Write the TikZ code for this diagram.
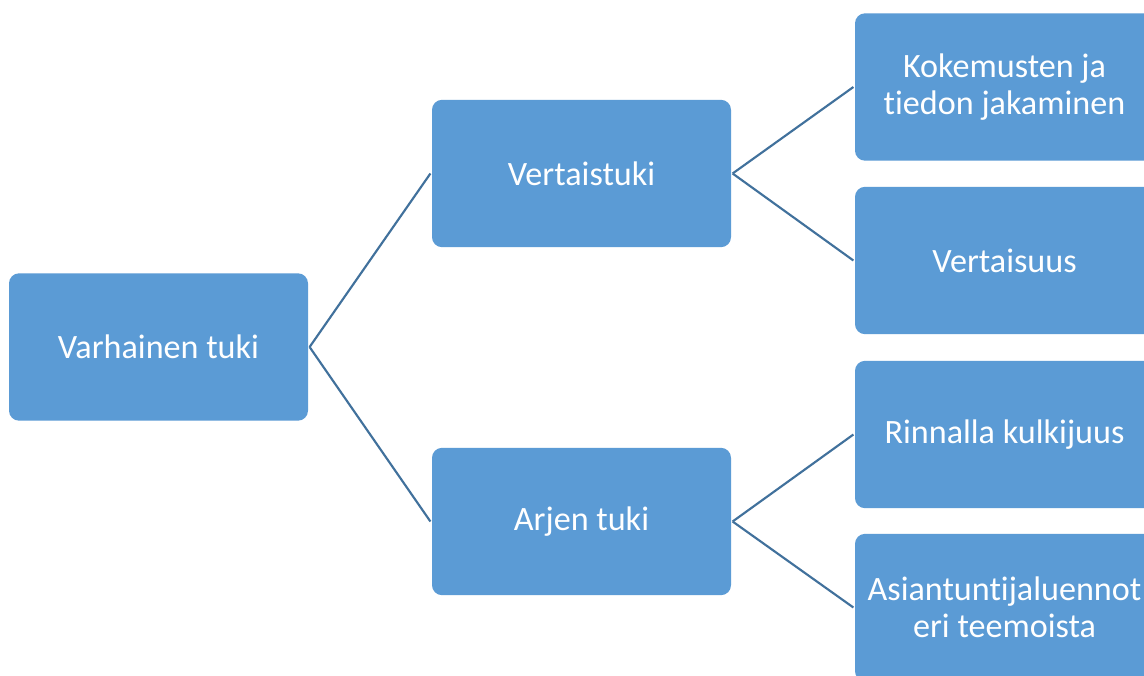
\documentclass[tikz,border=0pt]{standalone}
\usepackage{fontspec}
\setmainfont[Ligatures={NoCommon,NoContextual}]{Carlito}
\definecolor{boxblue}{HTML}{5B9BD5}
\definecolor{lineblue}{HTML}{41719C}
\begin{document}
\begin{tikzpicture}[x=0.75pt,y=-0.75pt,
  box/.style={rectangle, rounded corners=7.5pt, fill=boxblue, draw=none,
    minimum width=224.25pt, minimum height=110.5pt, align=center,
    text=white, font=\fontsize{25.6pt}{27.5pt}\selectfont, outer sep=1.2pt},
  conn/.style={draw=lineblue, line width=1.6pt}]
\useasboundingbox (0,0) rectangle (1144,675);
\clip (0,0) rectangle (1144,675);
\fill[white] (0,0) rectangle (1144,675);
\node[box] (root) at (158.5,347) {Varhainen tuki};
\node[box] (vt) at (581.5,173.5) {Vertaistuki};
\node[box] (at) at (581.5,521.5) {Arjen tuki};
\node[box] (k) at (1004.5,87) {Kokemusten ja\\tiedon jakaminen};
\node[box] (v) at (1004.5,260.5) {Vertaisuus};
\node[box] (r) at (1004.5,434.5) {Rinnalla kulkijuus};
\node[box] (a) at (1004.5,607.5) {Asiantuntijaluennot\\eri teemoista};
\draw[conn] (root.east) -- (vt.west);
\draw[conn] (root.east) -- (at.west);
\draw[conn] (vt.east) -- (k.west);
\draw[conn] (vt.east) -- (v.west);
\draw[conn] (at.east) -- (r.west);
\draw[conn] (at.east) -- (a.west);
\end{tikzpicture}
\end{document}
